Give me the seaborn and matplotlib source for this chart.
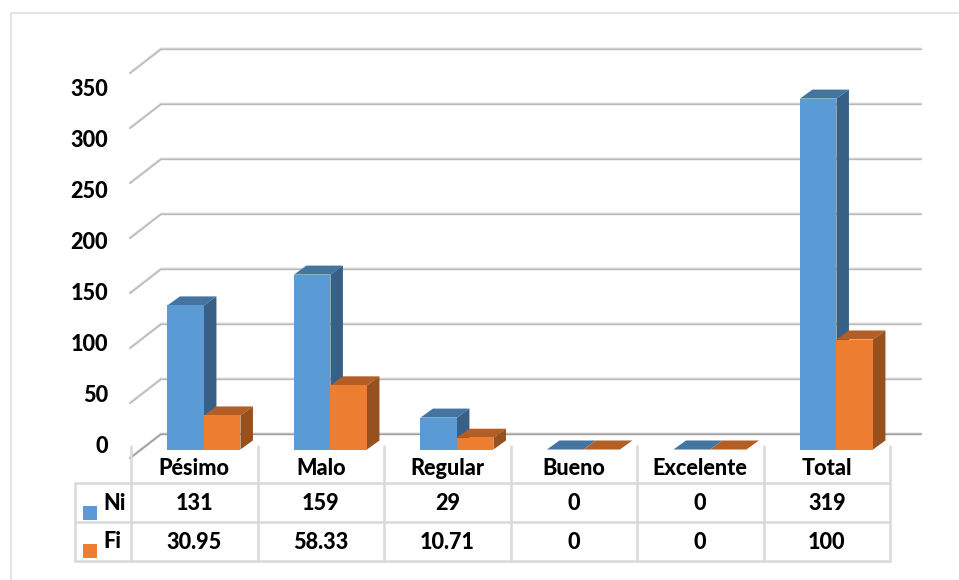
import matplotlib
matplotlib.use("Agg")
from matplotlib import pyplot as plt
from matplotlib.patches import Polygon, Rectangle
import pandas as pd
import seaborn as sns

categories = ["Pésimo", "Malo", "Regular", "Bueno", "Excelente", "Total"]
ni_values = [131, 159, 29, 0, 0, 319]
fi_values = [30.95, 58.33, 10.71, 0, 0, 100]
ni_labels = ["131", "159", "29", "0", "0", "319"]
fi_labels = ["30.95", "58.33", "10.71", "0", "0", "100"]
axis_ticks = [0, 50, 100, 150, 200, 250, 300, 350]

BLUE, BLUE_TOP, BLUE_SIDE = "#5b9bd5", "#4475a1", "#386087"
ORANGE, ORANGE_TOP, ORANGE_SIDE = "#ed7d31", "#b35e24", "#96511f"
TABLE = "#d9d9d9"
PX_PER_UNIT = 1.1
FONT = dict(fontsize=15.6, fontweight="black", color="black", va="baseline")

sns.set_theme(style="white")
plt.rcParams["font.family"] = ["Lato", "DejaVu Sans"]

fig = plt.figure(figsize=(9.59, 5.8), dpi=100)

# overlay in pixel coordinates for walls, table and frame
bg = fig.add_axes([0, 0, 1, 1], zorder=0)
bg.set_xlim(0, 959)
bg.set_ylim(580, 0)
bg.axis("off")

bg.plot([11, 11, 959], [580, 13, 13], color="#e4e4e4", lw=1.4)

for tick in axis_ticks:
    wall_y = 434 - PX_PER_UNIT * tick
    outer = "#c4c4c4" if tick == 0 else "#d6d6d6"
    inner = "#8f8f8f" if tick == 0 else "#b0b0b0"
    bg.plot([130, 161, 921], [wall_y + 24, wall_y, wall_y], color=outer, lw=1.9,
            solid_joinstyle="miter")
    bg.plot([130, 161, 921], [wall_y + 24.3, wall_y + 0.3, wall_y + 0.3], color=inner, lw=0.6,
            solid_joinstyle="miter")
    bg.text(108, 453 - 1.02 * tick, str(tick), ha="right", **FONT)

# bars
long_df = pd.DataFrame({
    "categoria": categories * 2,
    "valor": ni_values + fi_values,
    "serie": ["Ni"] * 6 + ["Fi"] * 6,
})
ax_left, ax_right = 140.7, 899.7
base_y, top_y = 449.5, 30
ax = fig.add_axes([ax_left / 959, 1 - base_y / 580,
                   (ax_right - ax_left) / 959, (base_y - top_y) / 580], zorder=1)
ax.patch.set_alpha(0)
sns.barplot(data=long_df, x="categoria", y="valor", hue="serie", hue_order=["Ni", "Fi"],
            palette=[BLUE, ORANGE], width=0.577, saturation=1, legend=False, ax=ax)
ax.set_xlim(-0.5, 5.5)
ax.set_ylim(0, (base_y - top_y) / PX_PER_UNIT)
ax.axis("off")

# fake the 3D depth of each bar
dx = 12.5 * 6 / (ax_right - ax_left)
dy = 9 / PX_PER_UNIT
for bar in list(ax.patches):
    x0, w, h = bar.get_x(), bar.get_width(), bar.get_height()
    is_ni = bar.get_facecolor()[2] > 0.5
    z = 3 if is_ni else 5
    bar.set_zorder(z + 1)
    bar.set_edgecolor("none")
    top_color = BLUE_TOP if is_ni else ORANGE_TOP
    side_color = BLUE_SIDE if is_ni else ORANGE_SIDE
    ax.add_patch(Polygon([(x0, h), (x0 + dx, h + dy), (x0 + w + dx, h + dy), (x0 + w, h)],
                         facecolor=top_color, edgecolor="none", zorder=z))
    if h > 0:
        ax.add_patch(Polygon([(x0 + w, 0), (x0 + w + dx, dy), (x0 + w + dx, h + dy), (x0 + w, h)],
                             facecolor=side_color, edgecolor="none", zorder=z))

# data table on top of everything
fg = fig.add_axes([0, 0, 1, 1], zorder=2)
fg.set_xlim(0, 959)
fg.set_ylim(580, 0)
fg.axis("off")
col_left, col_w = 131, 126.5
rows_y = [483, 522, 561]
for i in range(7):
    fg.plot([col_left + i * col_w] * 2, [446, 561], color=TABLE, lw=1.8)
for y in rows_y:
    fg.plot([75, col_left + 6 * col_w], [y, y], color=TABLE, lw=1.8)
fg.plot([75, 75], [483, 561], color=TABLE, lw=1.8)

for i, name in enumerate(categories):
    cx = col_left + (i + 0.5) * col_w
    fg.text(cx, 475, name, ha="center", **FONT)
    fg.text(cx, 510, ni_labels[i], ha="center", **FONT)
    fg.text(cx, 549, fi_labels[i], ha="center", **FONT)

fg.add_patch(Rectangle((83, 506), 14, 14, facecolor=BLUE, edgecolor="none"))
fg.add_patch(Rectangle((83, 544), 14, 14, facecolor=ORANGE, edgecolor="none"))
fg.text(103, 510, "Ni", ha="left", **FONT)
fg.text(103, 548, "Fi", ha="left", **FONT)

fig.savefig("out.png", dpi=100)
